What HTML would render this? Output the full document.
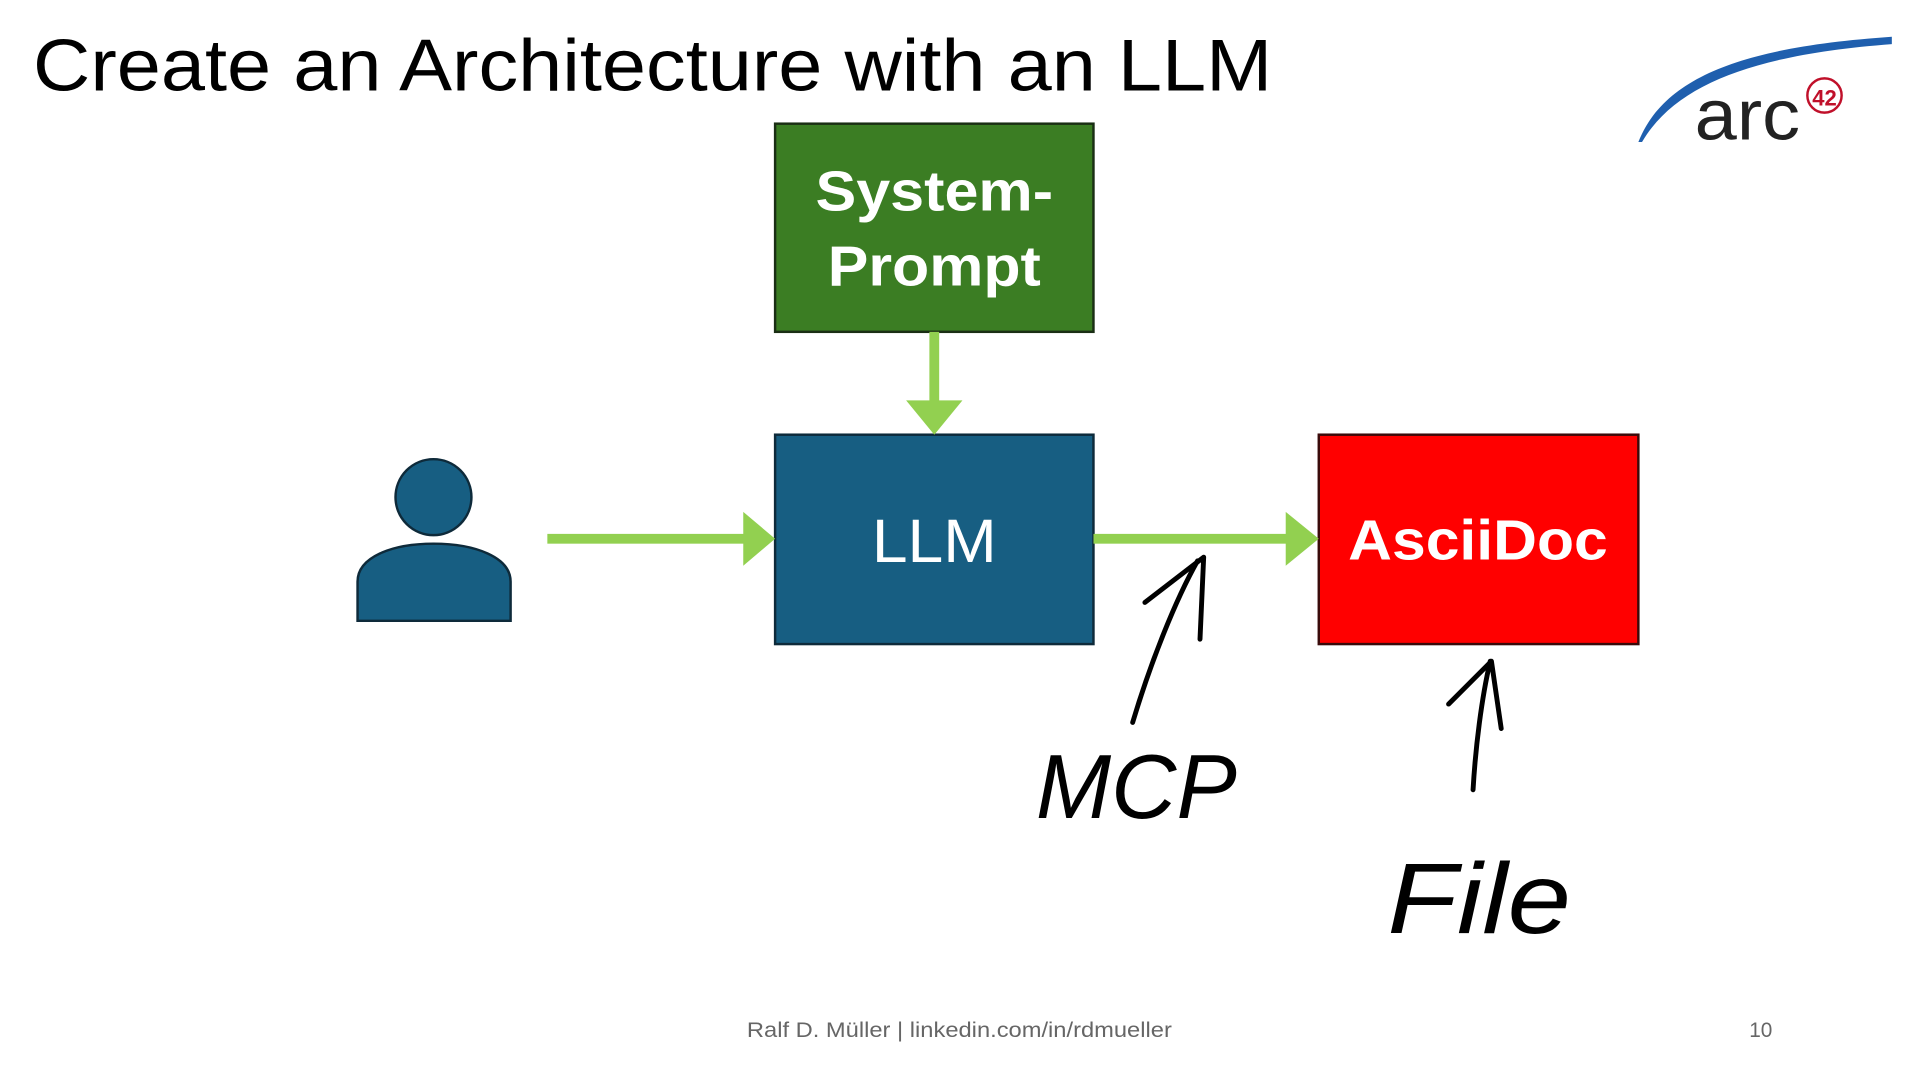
<!DOCTYPE html>
<html><head><meta charset="utf-8"><style>
html,body{margin:0;padding:0;background:#fff;}
svg{display:block;}
</style></head><body>
<svg width="1920" height="1080" viewBox="0 0 1568 882" xmlns="http://www.w3.org/2000/svg">
<rect width="1568" height="882" fill="#fff"/>
<text x="27" y="74" font-family="Liberation Sans, sans-serif" font-size="60" fill="#000" textLength="1012" lengthAdjust="spacingAndGlyphs">Create an Architecture with an LLM</text>
<!-- logo -->
<path d="M1338,116 C1360,60 1430,38 1545,30 L1545,36 C1440,44 1370,66 1341,116 Z" fill="#1f5fae"/>
<text x="1384" y="114" font-family="Liberation Sans, sans-serif" font-size="58" fill="#222" textLength="86" lengthAdjust="spacingAndGlyphs">arc</text>
<circle cx="1490" cy="78" r="14" fill="#fff" stroke="#c0102a" stroke-width="2"/>
<text x="1490" y="86" text-anchor="middle" font-family="Liberation Sans, sans-serif" font-weight="bold" font-size="18" fill="#c0102a">42</text>
<!-- boxes -->
<rect x="633" y="101" width="260" height="170" fill="#3b7d23" stroke="#1a2e14" stroke-width="2"/>
<text x="666" y="172" font-family="Liberation Sans, sans-serif" font-weight="bold" font-size="46" fill="#fff" textLength="194" lengthAdjust="spacingAndGlyphs">System-</text>
<text x="676" y="233" font-family="Liberation Sans, sans-serif" font-weight="bold" font-size="46" fill="#fff" textLength="174" lengthAdjust="spacingAndGlyphs">Prompt</text>
<rect x="633" y="355" width="260" height="171" fill="#175e82" stroke="#0e2a3a" stroke-width="2"/>
<text x="712" y="459" font-family="Liberation Sans, sans-serif" font-size="50" fill="#fff" textLength="102" lengthAdjust="spacingAndGlyphs">LLM</text>
<rect x="1077" y="355" width="261" height="171" fill="#ff0000" stroke="#3a0a0a" stroke-width="2"/>
<text x="1101" y="457" font-family="Liberation Sans, sans-serif" font-weight="bold" font-size="46" fill="#fff" textLength="212" lengthAdjust="spacingAndGlyphs">AsciiDoc</text>
<!-- arrows -->
<g fill="#92d050">
<rect x="759" y="271" width="8" height="58"/>
<polygon points="740,327 786,327 763,355"/>
<rect x="447" y="436" width="162" height="8"/>
<polygon points="607,418 607,462 633,440"/>
<rect x="893" y="436" width="159" height="8"/>
<polygon points="1050,418 1050,462 1077,440"/>
</g>
<!-- person -->
<circle cx="354" cy="406" r="31" fill="#175e82" stroke="#0e2a3a" stroke-width="2"/>
<path d="M292,507 L292,475 C292,455 320,444 354,444 C388,444 417,455 417,475 L417,507 Z" fill="#175e82" stroke="#0e2a3a" stroke-width="2"/>
<!-- handwriting -->
<g fill="none" stroke="#000" stroke-width="4" stroke-linecap="round" stroke-linejoin="round">
<path d="M925,590 C940,540 960,490 978,458"/>
<path d="M935,492 L983,455 L980,522"/>
<path d="M1203,645 C1205,610 1210,570 1217,540"/>
<path d="M1183,575 L1218,540 L1226,595"/>
</g>
<text x="846" y="668" font-family="Liberation Sans, sans-serif" font-style="italic" font-size="74" fill="#000" textLength="164" lengthAdjust="spacingAndGlyphs">MCP</text>
<text x="1133" y="762" font-family="Liberation Sans, sans-serif" font-style="italic" font-size="82" fill="#000" textLength="150" lengthAdjust="spacingAndGlyphs">File</text>
<!-- footer -->
<text x="610" y="847" font-family="Liberation Sans, sans-serif" font-size="17" fill="#666" textLength="347" lengthAdjust="spacingAndGlyphs">Ralf D. Müller | linkedin.com/in/rdmueller</text>
<text x="1438" y="847" text-anchor="middle" font-family="Liberation Sans, sans-serif" font-size="17" fill="#666">10</text>
</svg>
</body></html>
